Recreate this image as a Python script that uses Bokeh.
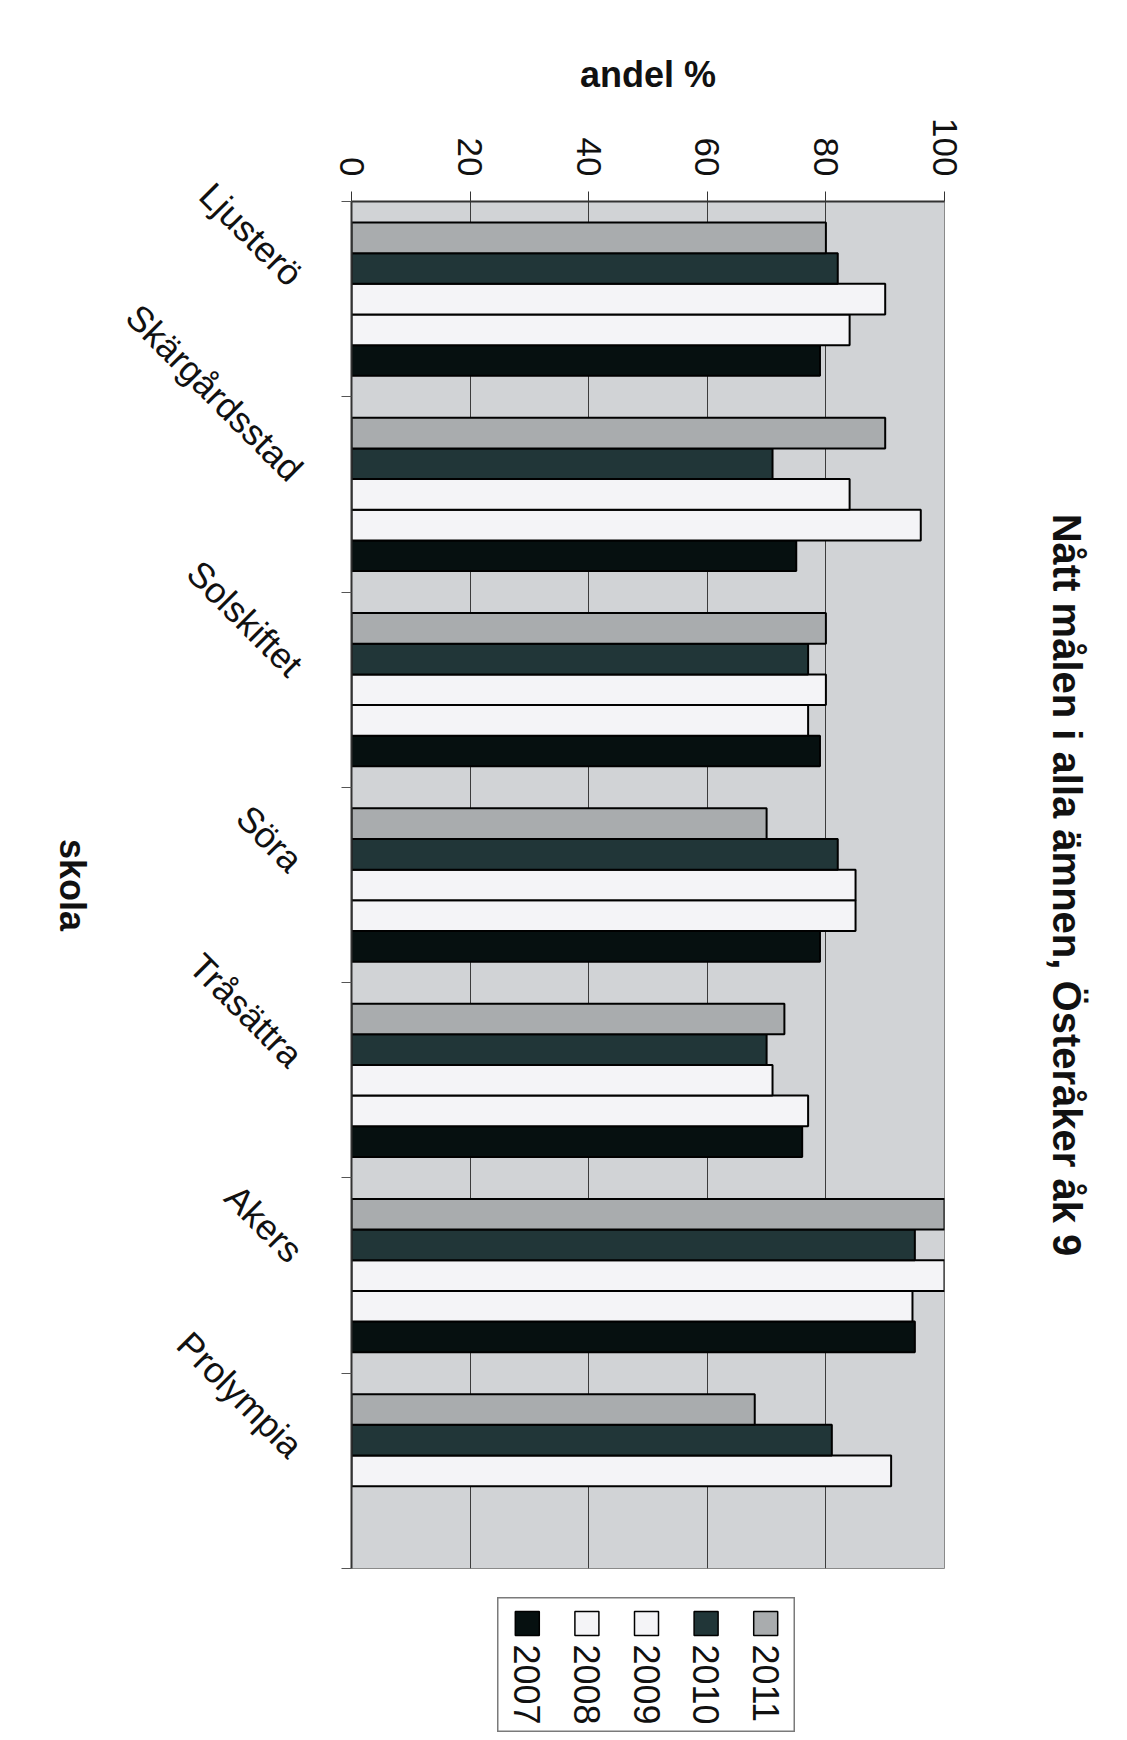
import math
from bokeh.plotting import figure
from bokeh.models import (FactorRange, Range1d, FixedTicker, LinearAxis,
                          Spacer, ColumnDataSource)
from bokeh.transform import dodge
from bokeh.layouts import column, row
from bokeh.embed import file_html
from bokeh.resources import INLINE
from bokeh.core.properties import value

# ---- data ----
schools = ["Ljusterö", "Skärgårdsstad", "Solskiftet", "Söra", "Tråsättra", "Akers", "Prolympia"]
years = ["2007", "2008", "2009", "2010", "2011"]
v2007 = [79, 75, 79, 79, 76, 95, float("nan")]
v2008 = [84, 96, 77, 85, 77, 94.6, float("nan")]
v2009 = [90, 84, 80, 85, 71, 100, 91]
v2010 = [82, 71, 77, 82, 70, 95, 81]
v2011 = [80, 90, 80, 70, 73, 100, 68]
x_ticks = [0, 20, 40, 60, 80, 100]

title_text = "Nått målen i alla ämnen, Österåker åk 9"
x_label = "andel %"
y_label = "skola"

colors = {"2007": "#061010", "2008": "#f4f4f7", "2009": "#f4f4f7",
          "2010": "#213638", "2011": "#a9acae"}
FONT = "Liberation Sans"

n = len(schools)
pos = list(range(1, n + 1))          # category slots, top to bottom
src = ColumnDataSource(dict(school=schools, pos=pos, y2007=v2007, y2008=v2008,
                            y2009=v2009, y2010=v2010, y2011=v2011))

TOP, BOTTOM, H = 201, 29, 1597

# narrow strip on the left carrying the rotated "skola" axis title
sk = figure(width=100, height=H, x_range=Range1d(0, 100), y_range=Range1d(n + 0.5, 0.5),
            x_axis_location=None, y_axis_location=None, output_backend="svg",
            toolbar_location=None, min_border_left=0, min_border_right=0,
            min_border_top=TOP, min_border_bottom=BOTTOM)
sk.grid.visible = False
sk.outline_line_color = None
sk.text(x=[72], y=[(n + 1) / 2], text=[y_label], angle=-math.pi / 2,
        text_align="center", text_baseline="middle", text_font=value(FONT),
        text_font_size="36px", text_font_style="bold", text_color="#111111")

p = figure(width=1011, height=H,
           y_range=Range1d(n + 0.5, 0.5),
           x_range=Range1d(0, 100),
           x_axis_location="above", y_axis_location="left",
           output_backend="svg", toolbar_location=None,
           min_border_left=250, min_border_right=167,
           min_border_top=TOP, min_border_bottom=BOTTOM)

p.background_fill_color = "#d1d3d6"
p.border_fill_color = "white"
p.outline_line_color = "#8a8a8a"
p.outline_line_width = 1

step = 0.157
offsets = {"2011": -2 * step, "2010": -step, "2009": 0.0, "2008": step, "2007": 2 * step}
for yr in years:
    p.hbar(y=dodge("pos", offsets[yr]), left=0, right="y" + yr,
           height=step, source=src, fill_color=colors[yr],
           line_color="black", line_width=2)

# top value axis
xa = p.xaxis[0]
xa.ticker = FixedTicker(ticks=x_ticks)
xa.major_label_orientation = -math.pi / 2
xa.major_label_text_font = FONT
xa.major_label_text_font_size = "35px"
xa.major_label_text_color = "#111111"
xa.major_label_standoff = 15
xa.major_tick_out = 10
xa.major_tick_in = 0
xa.minor_tick_line_color = None
xa.axis_line_color = "#333333"
xa.axis_line_width = 2
xa.major_tick_line_color = "#333333"
xa.axis_label = x_label
xa.axis_label_text_font = FONT
xa.axis_label_text_font_size = "36px"
xa.axis_label_text_font_style = "bold"
xa.axis_label_text_color = "#111111"
xa.axis_label_standoff = 20

p.xgrid.ticker = FixedTicker(ticks=x_ticks)
p.xgrid.grid_line_color = "#3c3c3c"
p.xgrid.grid_line_width = 1
p.ygrid.grid_line_color = None

# category axis: slanted labels near slot centres, small ticks at slot boundaries
label_lift = 0.1
label_ticks = [k - label_lift for k in pos]
ya = p.yaxis[0]
ya.ticker = FixedTicker(ticks=label_ticks, minor_ticks=[k + 0.5 for k in range(n + 1)])
ya.major_label_overrides = {t: s for t, s in zip(label_ticks, schools)}
ya.major_tick_line_color = None
ya.minor_tick_line_color = "#555555"
ya.minor_tick_out = 10
ya.minor_tick_in = 0
ya.axis_line_color = "#333333"
ya.axis_line_width = 2
ya.major_label_orientation = -math.pi / 4
ya.major_label_text_font = FONT
ya.major_label_text_font_size = "36px"
ya.major_label_text_color = "#111111"
ya.major_label_standoff = 45

# chart title on the right, reading top to bottom
ta = LinearAxis(ticker=FixedTicker(ticks=[]), axis_line_color=None,
                major_tick_line_color=None, minor_tick_line_color=None,
                major_label_text_font_size="0px", axis_label=title_text,
                axis_label_text_font=FONT, axis_label_text_font_size="40px",
                axis_label_text_font_style="bold", axis_label_text_color="#111111",
                axis_label_standoff=100)
p.add_layout(ta, "right")

# legend (rotated texts)
lg = figure(width=298, height=135, x_range=FactorRange(factors=years),
            y_range=Range1d(135, 0), x_axis_location=None, y_axis_location=None,
            output_backend="svg", toolbar_location=None, min_border=0)
lg.grid.visible = False
lg.outline_line_color = "#7a7a7a"
lg.outline_line_width = 2
lg.background_fill_color = "white"
lsrc = ColumnDataSource(dict(year=years, color=[colors[y] for y in years]))
lg.scatter(x="year", y=26, marker="square", size=24, fill_color="color",
           line_color="black", line_width=1.5, source=lsrc)
lg.text(x="year", y=47, text="year", angle=-math.pi / 2, text_align="left",
        text_baseline="middle", text_font=value(FONT), text_font_size="36px",
        text_color="#111111", source=lsrc)

layout = column(row(sk, p), row(Spacer(width=497, height=135), lg))
open("out.html", "w").write(file_html(layout, INLINE))
